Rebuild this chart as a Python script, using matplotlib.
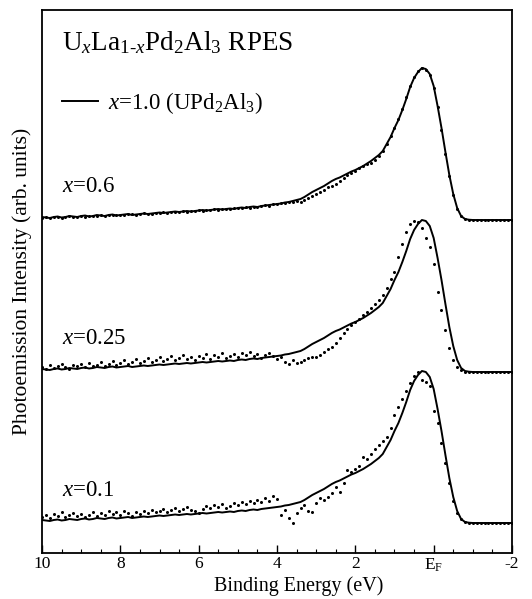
import numpy as np
import matplotlib
matplotlib.use("Agg")
import matplotlib.pyplot as plt

plt.rcParams['font.family'] = ['Liberation Serif', 'DejaVu Serif']
plt.rcParams['mathtext.fontset'] = 'custom'
plt.rcParams['mathtext.rm'] = 'Liberation Serif'
plt.rcParams['mathtext.it'] = 'Liberation Serif:italic'
plt.rcParams['mathtext.bf'] = 'Liberation Serif:bold'

# Binding energy grid (eV), 10 -> -2 in 0.1 eV steps
energy = np.round(np.linspace(10, -2, 121), 2)

# x = 1.0 (UPd2Al3) reference spectrum (arb. units)
ref_x10 = [
    3, 2.5, 2, 3, 3.5, 2.5, 3, 4, 3.5, 3,
    4, 4.5, 3.5, 4, 5, 4.5, 4, 5, 5.5, 4.5,
    5, 5.5, 6, 5, 5.5, 6, 6.5, 6, 6.5, 7,
    7.5, 7, 7.5, 8, 8.5, 8, 8.5, 9, 8.5, 9,
    9.5, 10, 9.5, 10, 10.5, 11, 10.5, 11, 11.5, 11,
    12, 12.5, 12, 13, 13.5, 13, 14, 14.5, 15, 15.5,
    16, 16.5, 17.5, 18, 19, 20, 21, 23, 25.5, 28,
    30, 32, 34, 36.5, 39, 41, 42.5, 44.5, 46.5, 48.5,
    50, 52, 54, 56.5, 59, 62, 65, 69, 76, 83,
    92, 100, 110, 121, 133, 142, 148, 152, 151, 146,
    134, 114, 92, 68, 45, 26, 12, 4, 1, 0.3,
    0, 0, 0, 0, 0, 0, 0, 0, 0, 0,
    0]

# x = 0.6
dots_x06 = [
    2, 3, 2.5, 3.5, 3, 2, 3.5, 4, 3, 3.5,
    4, 3.5, 4.5, 4, 4.5, 5, 4, 5.5, 5, 5,
    5.5, 5, 6, 6.5, 5.5, 6, 7, 6.5, 6, 7.5,
    7, 8, 7.5, 8.5, 8, 8.5, 9, 8.5, 9.5, 9,
    10, 9.5, 10.5, 10, 11, 10.5, 11.5, 11, 11, 12,
    12, 12.5, 13, 12.5, 13.5, 13.5, 14, 15, 14.5, 16,
    16, 17, 17, 18.5, 18, 19, 18, 20, 22, 24,
    26, 28, 30, 33, 34, 36, 39, 42, 45, 47,
    49, 52, 54, 56, 57, 60, 64, 69, 76, 84,
    92, 101, 111, 123, 134, 143, 149, 152, 150, 145,
    132, 113, 90, 66, 44, 25, 11, 4, 1, 0,
    0, 0.5, 0, 0, 0.5, 0, 0, 0, 0.5, 0,
    0]

# x = 0.25
dots_x025 = [
    5, 3, 7, 4, 6, 8, 5, 3, 7, 6,
    8, 5, 9, 6, 7, 10, 6, 8, 11, 7,
    9, 12, 8, 10, 13, 9, 11, 14, 10, 12,
    15, 11, 13, 16, 12, 14, 17, 13, 15, 12,
    16, 14, 18, 13, 17, 15, 19, 14, 16, 18,
    15, 19, 17, 20, 16, 18, 14, 17, 19, 16,
    13, 15, 10, 8, 12, 9, 10, 12, 14, 15,
    15, 17, 20, 23, 25, 29, 34, 39, 43, 47,
    50, 53, 57, 60, 64, 68, 72, 77, 84, 93,
    100, 115, 128, 140, 148, 151, 150, 144, 134, 125,
    108, 80, 62, 42, 24, 12, 5, 2, 0.5, 0,
    0, 0, 0.5, 0, 0, 0, 0.5, 0, 0, 0,
    0]

# x = 0.1
dots_x01 = [
    6, 8, 5, 9, 7, 11, 6, 8, 10, 7,
    9, 6, 8, 11, 7, 10, 8, 12, 9, 11,
    8, 12, 10, 7, 11, 9, 12, 10, 13, 11,
    12, 14, 11, 13, 15, 12, 14, 16, 13, 12,
    10, 14, 17, 15, 18, 16, 19, 15, 17, 20,
    18, 21, 19, 22, 20, 23, 21, 25, 22, 27,
    24, 8, 13, 5, 0, 10, 15, 18, 12, 11,
    20, 25, 23, 26, 30, 36, 31, 40, 53, 51,
    54, 57, 66, 64, 69, 74, 78, 82, 86, 95,
    108, 116, 124, 132, 140, 147, 151, 143, 141, 137,
    112, 100, 80, 60, 40, 22, 10, 4, 1, 0,
    0, 0.5, 0, 0, 0, 0.5, 0, 0, 0, 0,
    0]

series_labels = ["$x$=0.6", "$x$=0.25", "$x$=0.1"]
series_dots = [dots_x06, dots_x025, dots_x01]
offsets = [333, 181, 30]

xticks = [10, 8, 6, 4, 2, 0, -2]
xticklabels = ["10", "8", "6", "4", "2", r"E$_\mathrm{F}$", "-2"]

W, H = 532, 599
fig = plt.figure(figsize=(W / 100, H / 100), dpi=100)
ax = fig.add_axes([42 / W, (H - 553) / H, 470 / W, 543 / H])

ref = np.array(ref_x10)
line_handle = None
for lab, dots, off in zip(series_labels, series_dots, offsets):
    l, = ax.plot(energy, ref + off, color='black', lw=1.4, zorder=2)
    line_handle = l
    ax.plot(energy, np.array(dots) + off, linestyle='none', marker='o',
            markersize=2.2, color='black', markeredgewidth=0, zorder=3)
    ax.text(9.5, off + 33, lab, fontsize=16.5, ha='left', va='center')

ax.set_xlim(10, -2)
ax.set_ylim(0, 543)
ax.set_xticks(xticks)
ax.set_xticklabels(xticklabels, fontsize=12.5)
ax.set_xticks(np.arange(-2, 10.01, 0.5), minor=True)
ax.tick_params(axis='x', which='major', direction='in', length=6, width=1, pad=2.5)
ax.tick_params(axis='x', which='minor', direction='in', length=3, width=0.8)
ax.set_yticks([])
for s in ax.spines.values():
    s.set_linewidth(1.3)

ax.set_xlabel("Binding Energy (eV)", fontsize=14.5)
ax.xaxis.set_label_coords(0.547, -0.043)
ax.set_ylabel("Photoemission Intensity (arb. units)", fontsize=15.5)
ax.yaxis.set_label_coords(-0.022, 0.5)

ax.text(0.042, 0.965, r"U$_x$La$_{1\text{-}x}$Pd$_2$Al$_3$ RPES", transform=ax.transAxes,
        fontsize=19.5, ha='left', va='top')

ax.legend([line_handle], [r"$x$=1.0 (UPd$_2$Al$_3$)"], loc='center left',
          bbox_to_anchor=(0.0426, 0.829), frameon=False, fontsize=16.5,
          handlelength=1.55, handletextpad=0.45, borderaxespad=0, borderpad=0)

fig.savefig("out.png", dpi=100)
